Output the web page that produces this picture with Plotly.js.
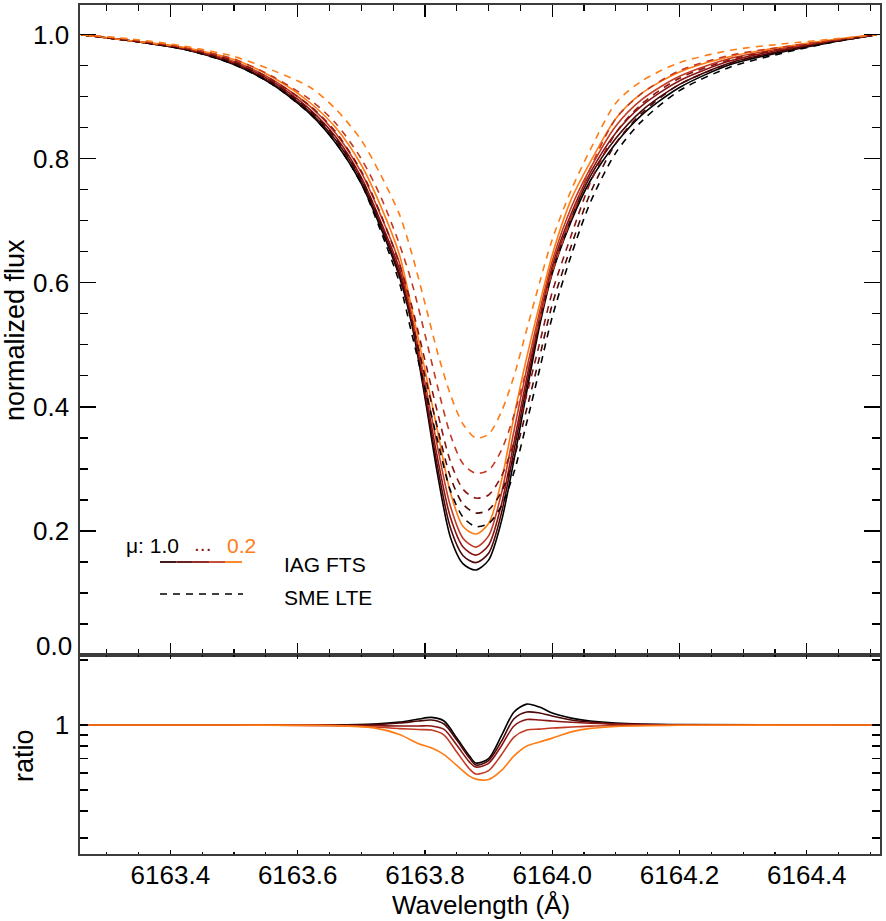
<!DOCTYPE html>
<html>
<head>
<meta charset="utf-8">
<script src="https://cdn.plot.ly/plotly-3.0.1.min.js"></script>
<style>html,body{margin:0;padding:0;background:#fff;}#chart{width:886px;height:921px;}</style>
</head>
<body>
<div id="chart"></div>
<script>
// ---------------- data ----------------
const MU_LABELS = ["1.0", "0.8", "0.6", "0.4", "0.2"];

// wavelength grid (Å) for the normalized-flux profiles
const WL = [6163.26, 6163.34, 6163.42, 6163.50, 6163.56, 6163.62, 6163.66, 6163.70, 6163.73, 6163.76,
            6163.78, 6163.80, 6163.82, 6163.84, 6163.86, 6163.88, 6163.90, 6163.92, 6163.94, 6163.96,
            6163.98, 6164.00, 6164.03, 6164.06, 6164.10, 6164.14, 6164.20, 6164.28, 6164.36, 6164.44, 6164.51];

// IAG FTS observed profiles (solid), mu = 1.0 ... 0.2
const IAG_MU10 = [1.0, 0.99, 0.977, 0.952, 0.92, 0.872, 0.825, 0.76, 0.69, 0.61, 0.53, 0.415, 0.29, 0.19, 0.147, 0.137, 0.153, 0.215, 0.315, 0.425, 0.53, 0.615, 0.70, 0.765, 0.825, 0.87, 0.915, 0.952, 0.972, 0.988, 1.0];
const IAG_MU08 = [1.0, 0.99, 0.977, 0.953, 0.922, 0.875, 0.83, 0.765, 0.695, 0.615, 0.535, 0.42, 0.302, 0.205, 0.16, 0.149, 0.164, 0.228, 0.33, 0.436, 0.536, 0.62, 0.705, 0.772, 0.833, 0.877, 0.92, 0.955, 0.974, 0.989, 1.0];
const IAG_MU06 = [1.0, 0.99, 0.978, 0.955, 0.925, 0.879, 0.835, 0.77, 0.70, 0.622, 0.54, 0.428, 0.316, 0.222, 0.174, 0.161, 0.177, 0.242, 0.343, 0.447, 0.543, 0.627, 0.712, 0.778, 0.842, 0.885, 0.926, 0.958, 0.976, 0.99, 1.0];
const IAG_MU04 = [1.0, 0.99, 0.979, 0.957, 0.928, 0.884, 0.841, 0.778, 0.71, 0.632, 0.545, 0.44, 0.334, 0.24, 0.188, 0.174, 0.192, 0.26, 0.362, 0.462, 0.553, 0.635, 0.722, 0.785, 0.853, 0.895, 0.933, 0.962, 0.978, 0.991, 1.0];
const IAG_MU02 = [1.0, 0.99, 0.98, 0.96, 0.932, 0.89, 0.85, 0.79, 0.725, 0.645, 0.555, 0.46, 0.36, 0.262, 0.207, 0.195, 0.212, 0.28, 0.385, 0.48, 0.565, 0.645, 0.735, 0.795, 0.865, 0.905, 0.94, 0.965, 0.98, 0.992, 1.0];

// SME LTE synthetic profiles (dashed), mu = 1.0 ... 0.2
const SME_MU10 = [1.0, 0.99, 0.977, 0.952, 0.92, 0.872, 0.826, 0.76, 0.685, 0.60, 0.515, 0.43, 0.345, 0.265, 0.222, 0.207, 0.212, 0.24, 0.295, 0.375, 0.46, 0.545, 0.645, 0.73, 0.81, 0.86, 0.91, 0.948, 0.97, 0.988, 1.0];
const SME_MU08 = [1.0, 0.99, 0.978, 0.955, 0.923, 0.877, 0.833, 0.768, 0.697, 0.61, 0.535, 0.45, 0.365, 0.287, 0.243, 0.229, 0.234, 0.263, 0.318, 0.397, 0.48, 0.565, 0.66, 0.745, 0.825, 0.873, 0.92, 0.954, 0.973, 0.989, 1.0];
const SME_MU06 = [1.0, 0.991, 0.979, 0.958, 0.927, 0.885, 0.843, 0.78, 0.712, 0.63, 0.56, 0.475, 0.39, 0.312, 0.267, 0.253, 0.258, 0.288, 0.343, 0.42, 0.502, 0.585, 0.677, 0.762, 0.842, 0.888, 0.93, 0.96, 0.977, 0.99, 1.0];
const SME_MU04 = [1.0, 0.992, 0.98, 0.961, 0.933, 0.895, 0.857, 0.80, 0.74, 0.662, 0.598, 0.517, 0.432, 0.355, 0.308, 0.293, 0.298, 0.33, 0.387, 0.462, 0.54, 0.617, 0.705, 0.785, 0.865, 0.905, 0.942, 0.967, 0.98, 0.991, 1.0];
const SME_MU02 = [1.0, 0.993, 0.982, 0.965, 0.943, 0.915, 0.88, 0.83, 0.775, 0.71, 0.645, 0.567, 0.487, 0.42, 0.372, 0.35, 0.356, 0.392, 0.45, 0.525, 0.60, 0.67, 0.75, 0.815, 0.89, 0.925, 0.955, 0.975, 0.985, 0.993, 1.0];

// ratio panel (IAG / SME)
const R_WL = [6163.26, 6163.50, 6163.65, 6163.72, 6163.76, 6163.79, 6163.81, 6163.83, 6163.85, 6163.87, 6163.88,
              6163.90, 6163.92, 6163.94, 6163.96, 6163.98, 6164.00, 6164.03, 6164.06, 6164.10, 6164.20, 6164.51];
const RATIO_MU10 = [1.0, 1.0, 1.002, 1.011, 1.032, 1.066, 1.085, 1.044, 0.871, 0.719, 0.667, 0.70, 0.89, 1.15, 1.25, 1.211, 1.137, 1.077, 1.044, 1.022, 1.005, 1.0];
const RATIO_MU08 = [1.0, 1.0, 1.0, 1.005, 1.022, 1.044, 1.055, 1.011, 0.852, 0.703, 0.653, 0.685, 0.84, 1.07, 1.149, 1.137, 1.101, 1.055, 1.032, 1.011, 1.0, 1.0];
const RATIO_MU06 = [1.0, 1.0, 0.997, 0.992, 0.99, 0.99, 0.99, 0.955, 0.808, 0.674, 0.639, 0.665, 0.80, 0.99, 1.06, 1.055, 1.044, 1.03, 1.02, 1.01, 1.0, 1.0];
const RATIO_MU04 = [1.0, 1.0, 0.995, 0.979, 0.963, 0.953, 0.948, 0.899, 0.75, 0.626, 0.593, 0.615, 0.727, 0.88, 0.948, 0.958, 0.969, 0.979, 0.989, 0.995, 1.0, 1.0];
const RATIO_MU02 = [1.0, 1.0, 0.995, 0.97, 0.905, 0.82, 0.785, 0.73, 0.65, 0.58, 0.562, 0.56, 0.615, 0.72, 0.80, 0.835, 0.87, 0.93, 0.965, 0.985, 0.998, 1.0];

const FLUX_TICKS = [0, 0.2, 0.4, 0.6, 0.8, 1.0];
const FLUX_TICK_TEXT = ["", "0.2", "0.4", "0.6", "0.8", "1.0"];
const RATIO_TICKS = [0.3, 0.4, 0.5, 0.6, 0.7, 0.8, 0.9, 1, 2];
const RATIO_TICK_TEXT = ["", "", "", "", "", "", "", "1", ""];

// ---------------- style ----------------
const COLORS = ["#000000", "#4c0808", "#8a1512", "#c23a22", "#ff7b14"];
const FONT = "Liberation Sans, Arial, Helvetica, sans-serif";
const IAG = [IAG_MU10, IAG_MU08, IAG_MU06, IAG_MU04, IAG_MU02];
const SME = [SME_MU10, SME_MU08, SME_MU06, SME_MU04, SME_MU02];
const RAT = [RATIO_MU10, RATIO_MU08, RATIO_MU06, RATIO_MU04, RATIO_MU02];

const traces = [];
for (let i = 0; i < 5; i++) {
  traces.push({x: WL, y: IAG[i], type: 'scatter', mode: 'lines', xaxis: 'x', yaxis: 'y',
    name: 'IAG mu=' + MU_LABELS[i], line: {color: COLORS[i], width: 1.6, shape: 'spline', smoothing: 0.8}});
}
for (let i = 0; i < 5; i++) {
  traces.push({x: WL, y: SME[i], type: 'scatter', mode: 'lines', xaxis: 'x', yaxis: 'y',
    name: 'SME mu=' + MU_LABELS[i], line: {color: COLORS[i], width: 1.6, dash: '7px,6px', shape: 'spline', smoothing: 0.8}});
}
for (let i = 0; i < 5; i++) {
  traces.push({x: R_WL, y: RAT[i], type: 'scatter', mode: 'lines', xaxis: 'x2', yaxis: 'y2',
    name: 'ratio mu=' + MU_LABELS[i], line: {color: COLORS[i], width: 1.6, shape: 'spline', smoothing: 0.8}});
}

// geometry helpers (pixel -> paper)
const ML = 80, MR = 6, MT = 5, MB = 67, W = 886, H = 921;
const PW = W - ML - MR, PH = H - MT - MB;
const px = v => (v - ML) / PW;
const py = v => (H - MB - v) / PH;
const SPLIT = py(655);

const XR = [6163.258, 6164.515];
const axLine = {showline: true, linecolor: '#3c3c3c', linewidth: 1.6, showgrid: false, zeroline: false};

const shapes = [];
const gradCols = ["#2a0000", "#5a0808", "#8a1512", "#c23a22", "#ff7b14"];
for (let k = 0; k < 5; k++) {
  const x0 = 160 + k * 16.4, x1 = x0 + 16.4;
  shapes.push({type: 'line', xref: 'paper', yref: 'paper', x0: px(x0), x1: px(x1), y0: py(562), y1: py(562),
    line: {color: gradCols[k], width: 1.8}});
}
shapes.push({type: 'line', xref: 'paper', yref: 'paper', x0: px(160), x1: px(243), y0: py(594), y1: py(594),
  line: {color: '#000', width: 1.5, dash: '7px,6px'}});

const ann = (text, x, y, opts) => Object.assign({text: text, xref: 'paper', yref: 'paper', x: px(x), y: py(y),
  showarrow: false, xanchor: 'left', yanchor: 'middle', font: {family: FONT, size: 21, color: '#000'}}, opts || {});

const annotations = [
  ann('μ: 1.0', 124, 545),
  ann('...', 192, 543, {font: {family: FONT, size: 21, color: '#8a1512'}}),
  ann('0.2', 225, 545, {font: {family: FONT, size: 21, color: '#ff7b14'}}),
  ann('IAG FTS', 282, 564),
  ann('SME LTE', 282, 597),
  ann('0.0', 74, 646, {xanchor: 'right', font: {family: FONT, size: 26, color: '#000'}}),
  ann('normalized flux', 15, 330, {xanchor: 'center', textangle: -90, font: {family: FONT, size: 27, color: '#000'}}),
  ann('ratio', 24, 755, {xanchor: 'center', textangle: -90, font: {family: FONT, size: 27, color: '#000'}}),
  ann('Wavelength (Å)', 481, 905, {xanchor: 'center', borderpad: 0, font: {family: FONT, size: 26, color: '#000'}})
];

const layout = {
  width: W, height: H,
  margin: {l: ML, r: MR, t: MT, b: MB},
  paper_bgcolor: '#ffffff', plot_bgcolor: '#ffffff',
  showlegend: false,
  font: {family: FONT, size: 26, color: '#000'},
  xaxis: Object.assign({domain: [0, 1], anchor: 'y', range: XR, showticklabels: false,
    ticks: 'inside', ticklen: 12, tickwidth: 1.2, tickcolor: '#000', tick0: 6163.0, dtick: 0.2,
    minor: {ticks: 'inside', ticklen: 6, tickwidth: 1.2, tickcolor: '#000', tick0: 6163.0, dtick: 0.05},
    mirror: 'ticks'}, axLine),
  yaxis: Object.assign({domain: [SPLIT, 1], anchor: 'x', range: [0, 1.048],
    tickmode: 'array', tickvals: FLUX_TICKS, ticktext: FLUX_TICK_TEXT,
    ticks: 'inside', ticklen: 16, tickwidth: 1.2, tickcolor: '#000', ticklabelstandoff: 4,
    minor: {ticks: 'inside', ticklen: 8, tickwidth: 1.2, tickcolor: '#000', tick0: 0, dtick: 0.05},
    mirror: 'ticks'}, axLine),
  xaxis2: Object.assign({domain: [0, 1], anchor: 'y2', matches: 'x', range: XR,
    ticks: 'inside', ticklen: 4, tickwidth: 1.2, tickcolor: '#000', tick0: 6163.0, dtick: 0.2, tickformat: '.1f',
    ticklabelstandoff: -3,
    minor: {ticks: 'inside', ticklen: 2, tickwidth: 1.2, tickcolor: '#000', tick0: 6163.0, dtick: 0.05},
    mirror: 'ticks'}, axLine),
  yaxis2: Object.assign({domain: [0, SPLIT], anchor: 'x2', type: 'log', range: [Math.log10(0.253), Math.log10(2.11)],
    tickmode: 'array', tickvals: RATIO_TICKS, ticktext: RATIO_TICK_TEXT,
    ticks: 'inside', ticklen: 8, tickwidth: 1.2, tickcolor: '#000', ticklabelstandoff: 4,
    mirror: 'ticks'}, axLine),
  shapes: shapes,
  annotations: annotations
};

Plotly.newPlot('chart', traces, layout, {displayModeBar: false, staticPlot: true});
</script>
</body>
</html>
